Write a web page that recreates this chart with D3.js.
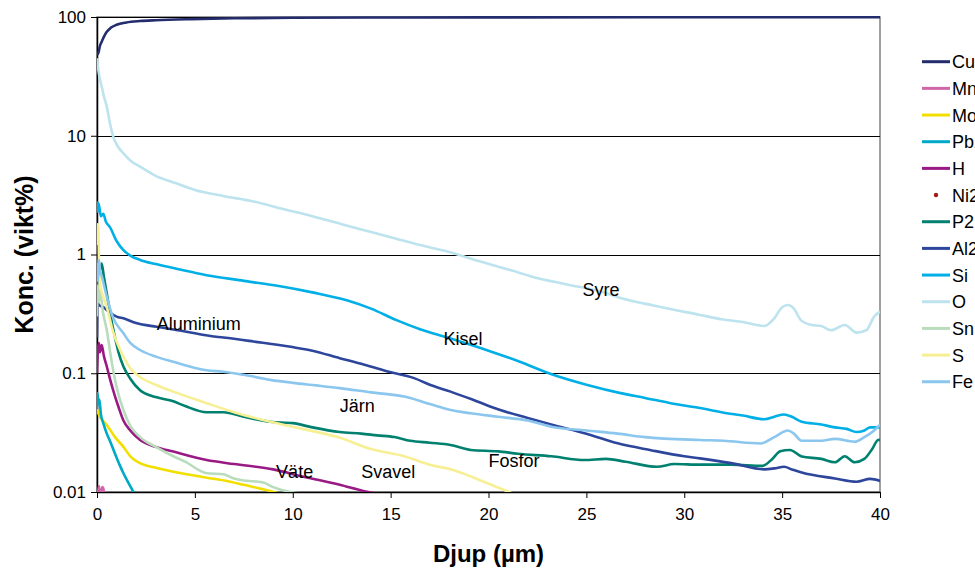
<!DOCTYPE html>
<html>
<head>
<meta charset="utf-8">
<script src="https://cdn.jsdelivr.net/npm/d3@7"></script>
<style>
  body { margin: 0; background: #fff; }
  svg text { font-family: "Liberation Sans", Arial, sans-serif; }
</style>
</head>
<body>
<div id="chart"></div>
<script>
// depth (µm), concentration (wt%)
var cu = [[0,48],[0.07,50],[0.15,57],[0.24,62],[0.35,68],[0.5,75],[0.7,81],[1,86],[1.5,90],[2.2,92.5],[3,94],[4.8,96],[7,97.5],[10,98.5],[15,99],[20,99.3],[30,99.5],[40,99.6]];
var mn = [[0.05,0.0095],[0.1,0.0112],[0.13,0.0098],[0.2,0.0096],[0.27,0.011],[0.32,0.0108],[0.36,0.0096]];
var mo = [[0,0.05],[0.07,0.046],[0.15,0.043],[0.3,0.04],[0.5,0.0367],[0.92,0.029],[1.35,0.024],[1.7,0.02],[2.2,0.0175],[3,0.016],[3.9,0.0148],[5.6,0.0132],[6.5,0.0125],[7.5,0.0115],[8.85,0.0102],[9.5,0.0095]];
var pb = [[0,0.05],[0.03,0.068],[0.07,0.055],[0.12,0.06],[0.2,0.045],[0.32,0.038],[0.5,0.031],[0.7,0.026],[0.92,0.021],[1.15,0.017],[1.35,0.0144],[1.6,0.012],[1.86,0.01],[2,0.009]];
var hyd = [[0,0.1],[0.05,0.16],[0.1,0.18],[0.15,0.15],[0.24,0.173],[0.35,0.14],[0.5,0.114],[0.7,0.085],[0.92,0.064],[1.1,0.052],[1.35,0.04],[1.7,0.033],[2.2,0.0274],[3,0.024],[3.9,0.0219],[5.6,0.0186],[7,0.0172],[9,0.0155],[10.5,0.0135],[12.4,0.0115],[13.6,0.0102],[15,0.0092]];
var ni = [];
var phos = [[0,0.5],[0.05,0.9],[0.1,0.7],[0.24,0.84],[0.35,0.65],[0.5,0.47],[0.7,0.3],[0.92,0.2],[1.1,0.15],[1.35,0.114],[1.7,0.09],[2.2,0.072],[3,0.063],[3.9,0.058],[4.5,0.053],[5.6,0.047],[6.46,0.047],[7.5,0.043],[8.85,0.039],[10,0.038],[11,0.035],[12.4,0.032],[13.5,0.031],[14.3,0.03],[15.2,0.029],[16,0.027],[17,0.026],[18.06,0.0249],[19.1,0.0226],[20.5,0.022],[21.5,0.021],[23.2,0.02],[24.9,0.0186],[26,0.019],[27,0.018],[28.6,0.0163],[29.5,0.0172],[30.8,0.017],[32.4,0.017],[34,0.0166],[34.5,0.019],[34.9,0.022],[35.4,0.0226],[36,0.0199],[37,0.019],[37.7,0.0178],[38.2,0.02],[38.7,0.0178],[39.2,0.019],[39.6,0.023],[39.9,0.0274],[40,0.0275]];
var al = [[0,0.2],[0.03,0.4],[0.07,0.38],[0.15,0.37],[0.32,0.36],[0.6,0.33],[1,0.3],[1.35,0.29],[2,0.265],[3.05,0.246],[4.5,0.225],[5.8,0.206],[6.46,0.2],[8,0.185],[9.9,0.167],[11,0.155],[12.4,0.134],[13.5,0.12],[14.8,0.104],[16.2,0.091],[17,0.08],[18.06,0.07],[19.3,0.059],[20.6,0.049],[22,0.042],[23.2,0.037],[25,0.031],[26.6,0.0257],[28.3,0.0225],[30,0.02],[30.8,0.0192],[32.4,0.0175],[34.1,0.0155],[34.6,0.0158],[35.1,0.0163],[35.5,0.0155],[36,0.0146],[37.7,0.013],[38.8,0.0122],[39.5,0.0129],[40,0.0124]];
var si = [[0,2.8],[0.03,2.3],[0.07,2.7],[0.12,2.5],[0.2,2.1],[0.32,2.2],[0.45,1.9],[0.66,1.7],[1,1.3],[1.35,1.09],[1.7,0.98],[2.2,0.9],[3,0.83],[3.9,0.77],[5.6,0.67],[7.5,0.6],[9.36,0.54],[11,0.48],[12.8,0.41],[14,0.35],[15.3,0.28],[16.5,0.235],[17.9,0.2],[20,0.155],[21.6,0.125],[23.3,0.097],[25,0.08],[26.75,0.068],[28,0.062],[29.3,0.056],[30.8,0.051],[31.9,0.047],[33,0.044],[34.1,0.041],[34.6,0.043],[35.1,0.045],[35.5,0.043],[36,0.039],[37,0.037],[37.7,0.035],[38.3,0.034],[38.8,0.032],[39.2,0.033],[39.5,0.035],[40,0.035]];
var oxy = [[0,45],[0.05,38],[0.1,33],[0.24,26],[0.35,21.5],[0.5,17.6],[0.65,13],[0.83,9.8],[1.05,8.2],[1.35,7.1],[1.7,6.2],[2.2,5.5],[3,4.6],[4,4],[5,3.5],[6.5,3.1],[8,2.8],[9.36,2.45],[11,2.1],[12.5,1.8],[13.6,1.61],[15,1.4],[16.5,1.2],[17.9,1.06],[19.5,0.88],[21.6,0.7],[22.1,0.66],[24,0.56],[25.7,0.49],[26.75,0.43],[28.5,0.37],[30.8,0.31],[31.9,0.285],[33,0.27],[34.1,0.25],[34.6,0.29],[35,0.36],[35.3,0.376],[35.6,0.35],[35.96,0.28],[36.5,0.255],[37,0.25],[37.5,0.23],[38.2,0.255],[38.8,0.22],[39.3,0.23],[39.7,0.3],[40,0.33]];
var sn = [[0,0.3],[0.05,0.55],[0.1,0.4],[0.15,0.5],[0.3,0.33],[0.5,0.23],[0.7,0.14],[0.92,0.088],[1.1,0.066],[1.35,0.049],[1.7,0.036],[2.2,0.029],[3,0.024],[3.9,0.02],[4.5,0.018],[5.6,0.0144],[6.46,0.0141],[7,0.013],[7.5,0.0125],[8,0.0123],[8.5,0.012],[9,0.011],[9.9,0.01],[10.5,0.0097]];
var sul = [[0,1.2],[0.03,1.8],[0.07,1.7],[0.1,0.9],[0.15,0.57],[0.3,0.45],[0.5,0.36],[0.8,0.23],[1.35,0.138],[1.7,0.11],[2.2,0.093],[3,0.08],[3.9,0.07],[5.6,0.056],[7,0.047],[8.85,0.039],[10.5,0.034],[12.3,0.029],[14,0.023],[15.7,0.02],[17,0.017],[18.2,0.0153],[19.5,0.0127],[20.8,0.0104],[21.5,0.0093]];
var fe = [[0,0.85],[0.05,0.6],[0.1,0.9],[0.15,0.74],[0.25,0.65],[0.5,0.44],[0.8,0.3],[1.35,0.217],[1.7,0.18],[2.2,0.157],[3,0.138],[3.9,0.125],[5.6,0.106],[6.46,0.103],[7.5,0.097],[8.85,0.088],[10,0.083],[11.2,0.079],[12.4,0.075],[14,0.069],[15.7,0.0636],[17,0.055],[18.06,0.049],[19.1,0.046],[20.5,0.043],[22,0.04],[23.2,0.0355],[25,0.033],[26.6,0.031],[28,0.029],[30.8,0.0274],[32,0.027],[33.9,0.0256],[34.6,0.029],[35.3,0.033],[35.6,0.031],[36,0.027],[37,0.027],[37.7,0.028],[38.7,0.0265],[39.2,0.029],[39.7,0.033],[40,0.037]];

var names  = ["Cu2","Mn2","Mo2","Pb2","H","Ni2","P2","Al2","Si","O","Sn","S","Fe"];
var colors = ["#232c6c","#d066a8","#f2df00","#00a9c6","#9a1a85","#a11b1b","#00806f","#2d469c","#00afe6","#bde3ee","#b9dcbc","#f7ef94","#8ac6ee"];
var series = [cu, mn, mo, pb, hyd, ni, phos, al, si, oxy, sn, sul, fe];

var xTicks = [0,5,10,15,20,25,30,35,40];
var yTicks = [0.01,0.1,1,10,100];
var yTickLabels = ["0.01","0.1","1","10","100"];

// curve labels: [text, depth, conc] (baseline position)
var labels = [
  ["Aluminium", 3.05, 0.231],
  ["Kisel", 17.7, 0.173],
  ["Syre", 24.8, 0.448],
  ["Järn", 12.4, 0.0472],
  ["Väte", 9.15, 0.0131],
  ["Svavel", 13.5, 0.0131],
  ["Fosfor", 20.0, 0.0162]
];

var W = 975, H = 574;
var mL = 97, mR = 880, mT = 17, mB = 492;

var svg = d3.select("#chart").append("svg")
  .attr("width", W)
  .attr("height", H);

var x = d3.scaleLinear().domain([0, 40]).range([mL, mR]);
var y = d3.scaleLog().domain([0.01, 100]).range([mB, mT]);

svg.append("defs").append("clipPath").attr("id", "plotclip")
  .append("rect")
  .attr("x", mL).attr("y", mT - 2)
  .attr("width", mR - mL).attr("height", mB - mT + 2);

// plot frame
svg.append("rect")
  .attr("x", mL).attr("y", mT)
  .attr("width", mR - mL).attr("height", mB - mT)
  .attr("fill", "none")
  .attr("stroke", "#808080")
  .attr("stroke-width", 1.5);

// gridlines
svg.append("g").selectAll("line")
  .data(yTicks).join("line")
  .attr("x1", mL).attr("x2", mR)
  .attr("y1", function(d){ return Math.round(y(d)) + 0.5; })
  .attr("y2", function(d){ return Math.round(y(d)) + 0.5; })
  .attr("stroke", "#000")
  .attr("stroke-width", 1);

// axes
var xAxis = d3.axisBottom(x).tickValues(xTicks).tickSize(6).tickSizeOuter(0).tickPadding(10);
var gx = svg.append("g").attr("transform", "translate(0," + mB + ")").call(xAxis);
var yAxis = d3.axisLeft(y).tickValues(yTicks).tickFormat(function(d, i){ return yTickLabels[i]; })
  .tickSize(6).tickSizeOuter(0).tickPadding(5);
var gy = svg.append("g").attr("transform", "translate(" + mL + ",0)").call(yAxis);

[gx, gy].forEach(function(g){
  g.select(".domain").attr("stroke", "#000").attr("stroke-width", 1.5);
  g.selectAll(".tick line").attr("stroke", "#000");
  g.selectAll(".tick text")
    .attr("font-size", 17)
    .attr("font-family", "Liberation Sans, Arial, sans-serif")
    .attr("fill", "#000");
});

// series
var line = d3.line()
  .x(function(d){ return x(d[0]); })
  .y(function(d){ return y(d[1]); })
  .curve(d3.curveMonotoneX);

var plot = svg.append("g").attr("clip-path", "url(#plotclip)");
series.forEach(function(data, i){
  if (!data.length) return;
  plot.append("path")
    .datum(data)
    .attr("d", line)
    .attr("fill", "none")
    .attr("stroke", colors[i])
    .attr("stroke-width", 2.6)
    .attr("stroke-linejoin", "round");
});

// curve labels
svg.append("g").selectAll("text")
  .data(labels).join("text")
  .attr("x", function(d){ return x(d[1]); })
  .attr("y", function(d){ return y(d[2]); })
  .attr("font-size", 18)
  .attr("fill", "#000")
  .text(function(d){ return d[0]; });

// axis titles
svg.append("text")
  .attr("x", (mL + mR) / 2)
  .attr("y", 562)
  .attr("text-anchor", "middle")
  .attr("font-size", 24)
  .attr("font-weight", "bold")
  .text("Djup (µm)");

svg.append("text")
  .attr("transform", "translate(33," + ((mT + mB) / 2) + ") rotate(-90)")
  .attr("text-anchor", "middle")
  .attr("font-size", 25)
  .attr("font-weight", "bold")
  .text("Konc. (vikt%)");

// legend
var legend = svg.append("g");
names.forEach(function(n, i){
  var ly = 61.7 + i * 26.67;
  if (n === "Ni2") {
    legend.append("circle").attr("cx", 936).attr("cy", ly).attr("r", 2.2).attr("fill", colors[i]);
  } else {
    legend.append("line")
      .attr("x1", 922).attr("x2", 950)
      .attr("y1", ly).attr("y2", ly)
      .attr("stroke", colors[i])
      .attr("stroke-width", 3);
  }
  legend.append("text")
    .attr("x", 952)
    .attr("y", ly + 6.5)
    .attr("font-size", 18)
    .text(n);
});
</script>
</body>
</html>
